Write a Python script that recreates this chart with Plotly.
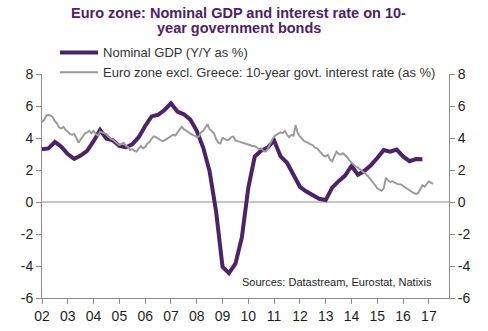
import plotly.graph_objects as go

# Nominal GDP, Y/Y %, quarterly (decimal year positions)
gdp_time = [2002 + 0.25 * i for i in range(60)]
gdp_values = [
    3.3, 3.35, 3.75, 3.45,      # 2002
    3.0, 2.7, 2.9, 3.2,         # 2003
    3.8, 4.5, 3.95, 3.85,       # 2004
    3.5, 3.42, 3.6, 4.05,       # 2005
    4.75, 5.35, 5.45, 5.75,     # 2006
    6.17, 5.65, 5.48, 5.15,     # 2007
    4.45, 3.4, 1.9, -0.6,       # 2008
    -4.05, -4.45, -3.85, -2.2,  # 2009
    0.9, 2.85, 3.2, 3.4,        # 2010
    3.85, 2.85, 2.45, 1.75,     # 2011
    0.95, 0.65, 0.4, 0.2,       # 2012
    0.12, 0.9, 1.3, 1.65,       # 2013
    2.25, 1.7, 1.95, 2.3,       # 2014
    2.75, 3.25, 3.15, 3.28,     # 2015
    2.85, 2.55, 2.68, 2.67,     # 2016
]

# Euro zone excl. Greece 10-year government bond yield, %, monthly
rate_values = [
    5.0, 5.15, 5.4, 5.45, 5.4, 5.3, 5.05, 4.9, 4.65, 4.6, 4.7, 4.5,        # 2002
    4.4, 4.25, 4.2, 4.25, 4.0, 3.7, 3.9, 4.1, 4.3, 4.35, 4.45, 4.3,        # 2003
    4.45, 4.25, 4.15, 4.4, 4.35, 4.3, 4.25, 4.1, 3.95, 3.9, 3.75, 3.65,    # 2004
    3.55, 3.65, 3.7, 3.5, 3.45, 3.25, 3.3, 3.2, 3.15, 3.35, 3.5, 3.35,     # 2005
    3.45, 3.65, 3.75, 3.95, 4.1, 4.05, 3.95, 3.9, 3.8, 3.85, 3.95, 4.0,    # 2006
    4.15, 4.2, 4.15, 4.35, 4.5, 4.7, 4.55, 4.45, 4.4, 4.3, 4.2, 4.15,      # 2007
    4.05, 4.1, 4.35, 4.45, 4.65, 4.85, 4.55, 4.45, 4.3, 3.95, 3.7, 3.65,   # 2008
    4.0, 3.95, 3.85, 3.9, 4.05, 4.1, 3.85, 3.8, 3.75, 3.75, 3.7, 3.65,     # 2009
    3.6, 3.55, 3.5, 3.5, 3.4, 3.3, 3.35, 3.2, 3.15, 3.3, 3.6, 3.85,        # 2010
    4.1, 4.2, 4.25, 4.35, 4.3, 4.45, 4.2, 4.05, 4.2, 4.15, 4.8, 4.3,       # 2011
    4.1, 3.95, 3.8, 3.75, 3.65, 3.6, 3.55, 3.4, 3.35, 3.2, 3.05, 2.9,      # 2012
    2.85, 2.95, 2.65, 2.55, 2.85, 3.15, 3.0, 2.95, 3.05, 2.95, 2.8, 2.6,   # 2013
    2.45, 2.3, 2.2, 2.15, 2.05, 1.95, 1.8, 1.7, 1.55, 1.4, 1.25, 1.05,     # 2014
    0.85, 0.75, 0.7, 0.85, 1.5, 1.35, 1.25, 1.3, 1.2, 1.15, 1.1, 1.1,      # 2015
    1.0, 0.9, 0.85, 0.75, 0.65, 0.55, 0.5, 0.55, 0.8, 1.05, 0.95, 1.1,     # 2016
    1.3, 1.2, 1.15,                                                        # 2017
]
rate_time = [2002 + i / 12 for i in range(len(rate_values))]

year_ticks = list(range(2002, 2018))
year_labels = ["02", "03", "04", "05", "06", "07", "08", "09",
               "10", "11", "12", "13", "14", "15", "16", "17"]
y_ticks = [8, 6, 4, 2, 0, -2, -4, -6]
y_labels = ["8", "6", "4", "2", "0", "-2", "-4", "-6"]

title_lines = ["Euro zone: Nominal GDP and interest rate on 10-",
               "year government bonds"]

PURPLE = "#4b2366"
GREY = "#999999"
AXIS = "#8c8c8c"
TEXT = "#1e1e1e"
FONT = "Liberation Sans, Arial, sans-serif"

fig = go.Figure()
fig.add_trace(go.Scatter(
    x=gdp_time, y=gdp_values, mode="lines", name="Nominal GDP (Y/Y as %)",
    line=dict(color=PURPLE, width=4), yaxis="y",
))
fig.add_trace(go.Scatter(
    x=rate_time, y=rate_values, mode="lines",
    name="Euro zone excl. Greece: 10-year govt. interest rate (as %)",
    line=dict(color=GREY, width=1.9), yaxis="y2",
))

yaxis_common = dict(
    range=[-6, 8], tickvals=y_ticks, ticktext=y_labels,
    ticks="outside", ticklen=5, automargin=False,
    tickcolor=AXIS, showline=True, linecolor=AXIS, linewidth=1,
    showgrid=False, zeroline=False,
    tickfont=dict(family=FONT, size=14, color=TEXT),
)

# Two-line heading, one annotation per line for tight line spacing
title_annotations = [
    dict(
        text=f"<b>{line}</b>", xref="paper", x=0.484, xanchor="center",
        yref="paper", y=y, yanchor="middle", showarrow=False,
        font=dict(family=FONT, size=14.5, color=PURPLE),
    )
    for line, y in zip(title_lines, [1.272, 1.205])
]

fig.update_layout(
    width=488, height=331,
    margin=dict(l=42, r=39, t=74, b=33, autoexpand=False),
    paper_bgcolor="white", plot_bgcolor="white",
    xaxis=dict(
        range=[2002, 2017.78], tickvals=year_ticks, ticktext=year_labels,
        ticks="outside", ticklen=5, tickcolor=AXIS, automargin=False,
        showline=True, linecolor=AXIS, linewidth=1,
        showgrid=False, zeroline=False,
        tickfont=dict(family=FONT, size=14, color=TEXT),
    ),
    yaxis=dict(side="left", **yaxis_common),
    yaxis2=dict(side="right", overlaying="y", **yaxis_common),
    legend=dict(
        x=0.032, xanchor="left", y=0.94, yanchor="bottom",
        font=dict(family=FONT, size=13, color="#333333"),
        bgcolor="rgba(0,0,0,0)", tracegroupgap=0, itemwidth=38,
    ),
    shapes=[dict(
        type="line", xref="paper", x0=0, x1=1, yref="y", y0=0, y1=0,
        line=dict(color=AXIS, width=1), layer="below",
    )],
    annotations=title_annotations + [
        dict(
            text="Sources: Datastream, Eurostat, Natixis",
            xref="paper", x=0.964, xanchor="right",
            yref="y", y=-5.0, yanchor="middle", showarrow=False,
            font=dict(family=FONT, size=11, color=TEXT),
        ),
    ],
)

fig.write_html("out.html")
